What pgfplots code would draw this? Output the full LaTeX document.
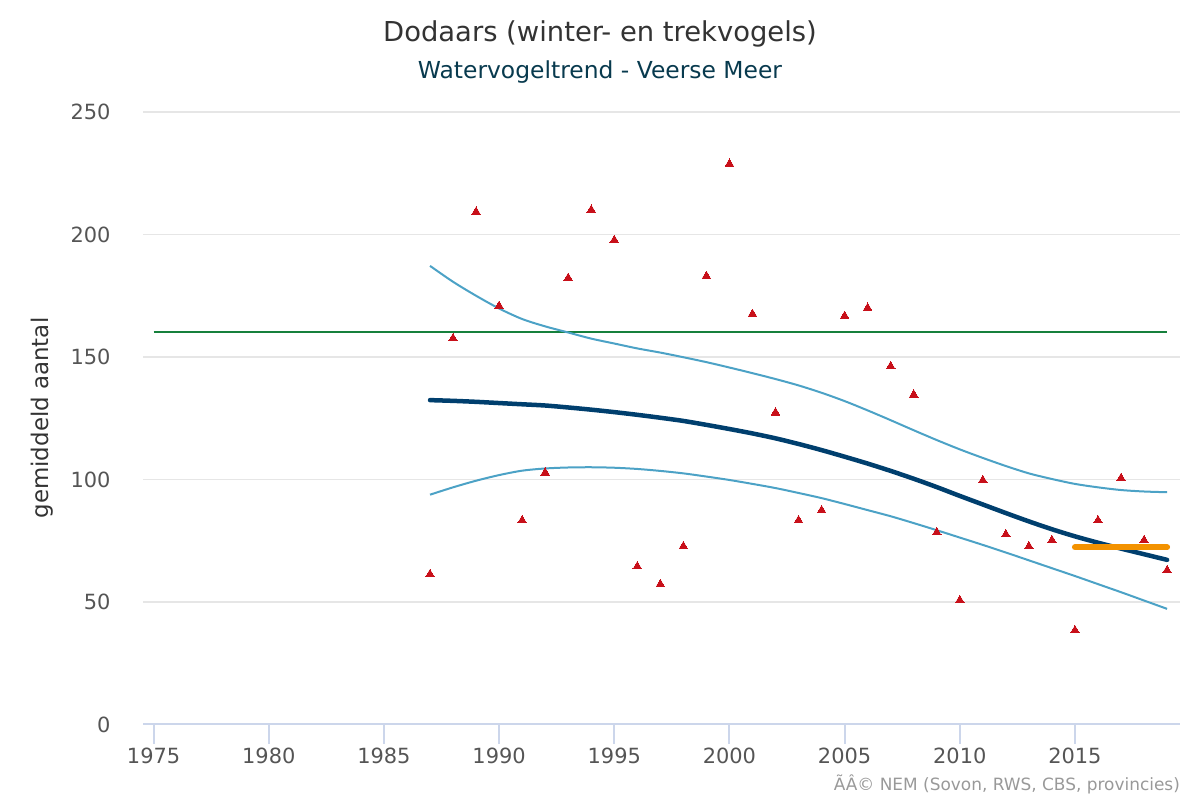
\documentclass[border=0pt]{standalone}
\usepackage{pgfplots}
\pgfplotsset{compat=1.18}
\usepackage{fontspec}
\setmainfont{DejaVu Sans}
\definecolor{titlec}{HTML}{333333}
\definecolor{subc}{HTML}{083A4E}
\definecolor{tickc}{HTML}{555555}
\definecolor{axisc}{HTML}{CCD6EB}
\definecolor{gridc}{HTML}{E6E6E6}
\definecolor{credc}{HTML}{999999}
\definecolor{trendc}{HTML}{003F6E}
\definecolor{cic}{HTML}{4CA2C6}
\definecolor{greenc}{HTML}{16803C}
\definecolor{redc}{HTML}{C8101A}
\definecolor{orangec}{HTML}{F39200}

\pgfplotstableread{
year val
1987 61.3
1988 157.6
1989 209.2
1990 170.8
1991 83.3
1992 102.8
1993 182.2
1994 210.0
1995 197.7
1996 64.5
1997 57.2
1998 72.7
1999 183.0
2000 228.8
2001 167.5
2002 127.3
2003 83.3
2004 87.4
2005 166.7
2006 170.0
2007 146.2
2008 134.6
2009 78.4
2010 50.7
2011 99.7
2012 77.6
2013 72.7
2014 75.2
2015 38.4
2016 83.3
2017 100.5
2018 75.2
2019 62.9
}\counts

\pgfplotstableread{
year trend upper lower
1987 132.4 187.2 93.8
1988 132.1 180.7 96.8
1989 131.7 175.0 99.5
1990 131.2 169.8 101.8
1991 130.7 165.5 103.6
1992 130.2 162.5 104.5
1993 129.4 160.0 104.9
1994 128.5 157.5 105.0
1995 127.5 155.5 104.8
1996 126.4 153.5 104.3
1997 125.2 151.8 103.5
1998 123.9 149.9 102.5
1999 122.3 147.9 101.2
2000 120.6 145.7 99.8
2001 118.8 143.4 98.2
2002 116.8 141.0 96.5
2003 114.5 138.4 94.5
2004 112.0 135.4 92.4
2005 109.3 132.0 90.0
2006 106.5 128.2 87.5
2007 103.5 124.2 85.0
2008 100.3 120.1 82.2
2009 96.9 116.1 79.3
2010 93.3 112.3 76.3
2011 89.8 108.8 73.3
2012 86.3 105.5 70.2
2013 82.9 102.5 67.0
2014 79.7 100.2 63.8
2015 76.8 98.2 60.6
2016 74.2 96.8 57.3
2017 71.8 95.7 54.0
2018 69.5 95.1 50.6
2019 67.2 94.8 47.2
}\trend

\begin{document}
\begin{tikzpicture}
\path[use as bounding box] (0,0) rectangle (1200bp,800bp);
\begin{axis}[
  at={(143bp,75.5bp)}, anchor=south west,
  width=1037bp, height=612.5bp, scale only axis,
  xmin=1974.54, xmax=2019.56, ymin=0, ymax=250,
  xtick={1975,1980,...,2015}, ytick={0,50,...,250},
  axis x line*=bottom, axis y line*=left,
  x axis line style={draw=axisc, line width=2bp, -},
  y axis line style={draw=none, -},
  ymajorgrids, major grid style={draw=gridc, line width=1.5bp},
  xtick style={draw=axisc, line width=2bp},
  ytick style={draw=none},
  tick align=outside, major tick length=19bp,
  ticklabel style={font=\fontsize{21}{24}\selectfont, text=tickc},
  yticklabel style={xshift=-10bp},
  xticklabel style={yshift=-1bp},
  /pgf/number format/assume math mode=true,
  /pgf/number format/1000 sep={},
  clip=false,
]
\addplot[greenc, line width=2bp] coordinates {(1975,160.1) (2019,160.1)};
\addplot[cic, line width=2bp, smooth] table[x=year, y=upper] {\trend};
\addplot[cic, line width=2bp, smooth] table[x=year, y=lower] {\trend};
\addplot[trendc, line width=4.5bp, smooth, line cap=round] table[x=year, y=trend] {\trend};
\addplot[only marks, mark=triangle*, mark size=5bp, mark options={fill=redc, draw=redc, line width=0pt}] table[x=year, y=val] {\counts};
\addplot[orangec, line width=6bp, line cap=round] coordinates {(2015,72.3) (2019,72.3)};
\end{axis}
\node[anchor=base, font=\fontsize{27.5}{30}\selectfont, text=titlec] at (600bp,758.3bp) {Dodaars (winter- en trekvogels)};
\node[anchor=base, font=\fontsize{23.5}{26}\selectfont, text=subc] at (600bp,721.7bp) {Watervogeltrend - Veerse Meer};
\node[rotate=90, font=\fontsize{23}{26}\selectfont, text=titlec] at (42bp,382bp) {gemiddeld aantal};
\node[anchor=base east, font=\fontsize{17}{20}\selectfont, text=credc, inner sep=0pt] at (1180bp,10bp) {ÃÂ© NEM (Sovon, RWS, CBS, provincies)};
\end{tikzpicture}
\end{document}
